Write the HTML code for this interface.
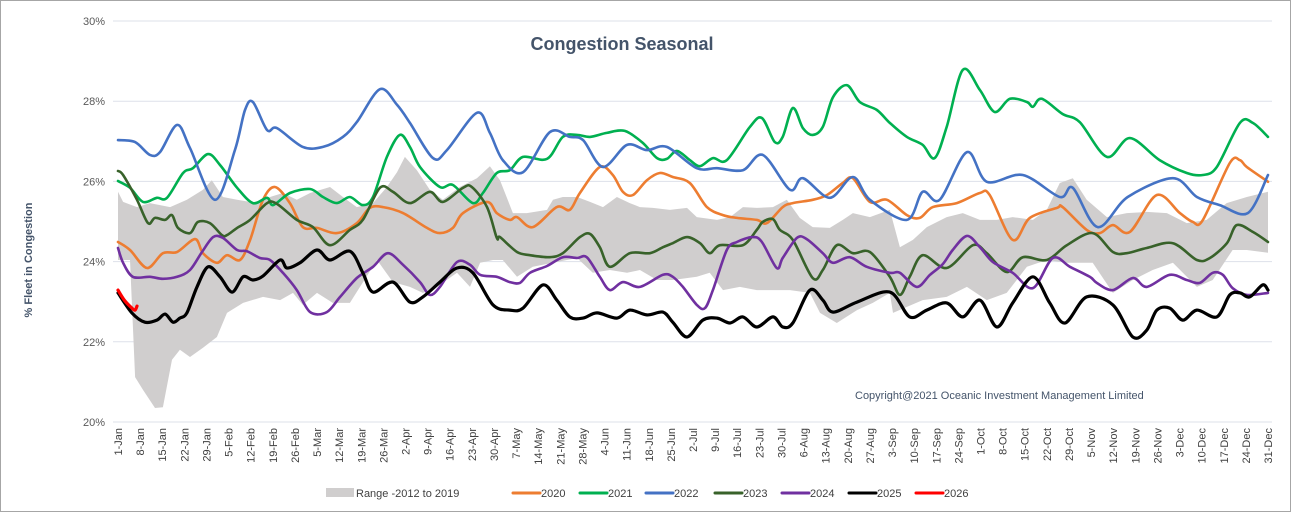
<!DOCTYPE html>
<html><head><meta charset="utf-8"><style>
html,body{margin:0;padding:0;background:#fff;}
body{width:1292px;height:516px;overflow:hidden;}
svg text{font-family:"Liberation Sans",sans-serif;}
</style></head><body>
<svg id="chart" width="1292" height="516" xmlns="http://www.w3.org/2000/svg">
<rect x="0.5" y="0.5" width="1290" height="511" fill="#fff" stroke="#a6a6a6"/>
<text x="622" y="50" text-anchor="middle" font-size="18" font-weight="bold" fill="#44546a">Congestion Seasonal</text>
<text transform="translate(32,260) rotate(-90)" text-anchor="middle" font-size="11" font-weight="bold" fill="#44546a">% Fleet in Congestion</text>
<g id="grid"></g><g id="band"></g><g id="lines"></g><g id="xlabels"></g>
<text x="855" y="399" font-size="11" fill="#44546a">Copyright@2021 Oceanic Investment Management Limited</text>
<g id="legend"></g>
</svg>
<script>
const yTicks=[20,22,24,26,28,30];
const xTickLabels=["1-Jan","8-Jan","15-Jan","22-Jan","29-Jan","5-Feb","12-Feb","19-Feb","26-Feb","5-Mar","12-Mar","19-Mar","26-Mar","2-Apr","9-Apr","16-Apr","23-Apr","30-Apr","7-May","14-May","21-May","28-May","4-Jun","11-Jun","18-Jun","25-Jun","2-Jul","9-Jul","16-Jul","23-Jul","30-Jul","6-Aug","13-Aug","20-Aug","27-Aug","3-Sep","10-Sep","17-Sep","24-Sep","1-Oct","8-Oct","15-Oct","22-Oct","29-Oct","5-Nov","12-Nov","19-Nov","26-Nov","3-Dec","10-Dec","17-Dec","24-Dec","31-Dec"];
const xTickDays=[0,7,14,21,28,35,42,49,56,63,70,77,84,91,98,105,112,119,126,133,140,147,154,161,168,175,182,189,196,203,210,217,224,231,238,245,252,259,266,273,280,287,294,301,308,315,322,329,336,343,350,357,364];
const rangeHighDays=[0,1.6,6,10.1,16.5,21.8,26.9,29.7,33.2,37.7,44,48.1,52.2,56.6,60.8,67.1,71.2,75.6,80.7,85.1,88.3,90.8,94.6,98.7,102.8,108.2,113.6,117.7,120.9,125,129.4,135.8,137.7,140.8,145.3,149.4,153.5,157.9,162,165.2,169.3,174.7,180.1,183.2,189.6,193.7,197.8,202.2,207.3,211.7,215.8,219.9,225.3,229.4,232.6,238,244.3,247.5,251.6,256,262.3,267.4,272.8,278.2,283.2,289.6,294,298.1,302.2,306.6,313,319.3,325.6,332,338.3,344.6,350.9,357.3,364];
const rangeHigh=[25.74,25.49,25.36,25.46,25.36,25.54,25.79,26.03,25.61,25.54,25.46,25.61,25.71,25.54,25.71,25.86,25.61,25.36,25.46,25.86,26.23,26.61,26.28,25.79,25.54,25.86,26.08,26.38,26.03,25.21,25.21,25.29,25.54,25.61,25.61,25.49,25.36,25.61,25.46,25.36,25.34,25.29,25.34,25.11,25.04,25.11,25.36,25.34,25.36,25.54,25.09,24.86,24.84,25.04,25.21,25.11,25.29,24.36,24.54,24.86,25.11,25.21,25.04,25.04,25.11,25.04,25.29,25.96,26.08,25.54,25.11,25.21,25.24,25.21,24.96,25.04,25.46,25.61,25.74];
const rangeLowDays=[0,3.8,5.4,7.9,11.7,14.2,17.1,19.6,22.8,26.9,31.3,34.5,39.6,45.9,51.3,55.4,58.5,63,68,73.4,76.6,82,87,92.4,96.5,100.9,107.3,111.4,114.6,118.7,121.8,126.3,131.3,138.9,145.3,150.3,155.7,161.1,165.2,170.6,175.6,183.2,187.3,191.5,196.8,202.2,212.7,219,222.2,227.5,233.9,238.9,244.3,245.3,249.7,254.7,262.3,268.7,275,281.3,287.7,294,300.3,308.5,314.9,321.2,327.5,333.9,341.5,346.5,352.8,357.3,364];
const rangeLow=[24.04,24.04,21.12,20.80,20.35,20.37,21.55,21.80,21.62,21.85,22.12,22.72,22.97,23.12,23.04,23.22,22.92,23.22,22.97,22.97,23.37,24.04,23.49,23.37,23.22,23.37,23.72,23.37,23.97,24.04,24.04,23.62,23.87,23.99,24.09,23.72,23.79,23.72,23.79,23.54,23.54,23.62,23.72,23.29,23.37,23.29,23.29,23.22,22.72,22.47,22.79,22.97,23.22,22.72,22.87,23.04,23.12,23.37,23.04,23.22,23.87,24.04,23.97,23.97,23.22,23.54,23.79,23.97,23.37,23.54,24.29,24.29,24.22];
const days2020=[0,3.8,9.2,14.2,18.7,24.4,26.9,31.3,34.5,38.6,41.8,45.9,49.7,54.4,58.5,63,69.3,75.6,79.7,83.9,90.2,97.8,101.9,106,109.2,116.8,119.9,124,126.3,131.3,138.9,143,146.2,152.5,156.6,159.8,163,167.4,171.5,175.6,181,186.4,191.5,195.9,202.2,205.4,210.4,213.6,219.9,224.4,229.4,232.6,238,243.4,249.7,253.8,257.9,265.5,272.8,275.9,283.2,288.6,297.2,299,306.6,310.8,314.9,320.3,328.8,336.1,340.2,343.4,351.9,355.1,357.3,364];
const vals2020=[24.49,24.29,23.84,24.21,24.24,24.56,24.21,23.97,24.16,24.04,24.54,25.54,25.86,25.46,24.86,24.84,24.71,24.96,25.34,25.36,25.21,24.84,24.71,24.84,25.21,25.49,25.21,25.04,25.11,24.86,25.36,25.29,25.71,26.36,26.16,25.74,25.66,26.03,26.21,26.11,25.96,25.36,25.16,25.09,25.04,24.96,25.36,25.46,25.54,25.66,25.96,26.08,25.49,25.54,25.16,25.09,25.36,25.46,25.71,25.66,24.54,25.09,25.34,25.36,24.79,24.71,24.91,24.74,25.66,25.21,24.99,25.04,26.46,26.53,26.36,25.99];
const days2021=[0,3.8,7.9,12.3,15.5,20.6,23.7,28.5,32.3,37.7,42.7,47.2,49.1,54.4,60.8,64.9,69.3,73.4,77.5,80.7,85.1,89.2,92.4,95.6,101.9,106,112.3,115.5,119.9,124,128.2,135.8,140.8,145.3,149.4,154.7,160.4,166.1,170.6,173.7,176.9,181,184.2,188.3,192.7,200,203.8,207.9,210.4,213.6,216.8,219.9,223.1,226.3,230.7,234.8,240.2,244.3,249.7,254.7,258.5,262.3,267.4,272.8,277.5,282.3,287.7,289.6,292.4,299,304.4,313,320.3,329.7,338.3,343.4,347.8,355.1,359.2,364];
const vals2021=[26.01,25.84,25.49,25.59,25.59,26.21,26.33,26.68,26.41,25.84,25.46,25.59,25.41,25.71,25.81,25.61,25.46,25.61,25.41,25.61,26.61,27.16,26.86,26.36,25.86,25.91,25.46,25.71,26.21,26.28,26.61,26.56,27.11,27.16,27.11,27.21,27.26,26.96,26.58,26.56,26.76,26.53,26.38,26.58,26.53,27.36,27.58,26.98,27.11,27.83,27.33,27.16,27.36,28.10,28.40,27.98,27.78,27.46,27.11,26.91,26.58,27.36,28.78,28.28,27.73,28.06,27.98,27.86,28.06,27.68,27.48,26.61,27.08,26.53,26.21,26.16,26.36,27.46,27.46,27.11];
const days2022=[0,5.4,10.1,13.3,18.7,22.8,30.7,37,40.2,42.7,47.2,50.3,58.5,64.9,71.2,75.6,82.9,88.3,92.4,99.7,104.1,113.6,117.7,121.8,128.2,136.7,143,147.2,153.5,161.1,167.4,173.7,183.2,189.6,197.8,204.1,212.7,216.8,225.3,232.6,238,249.7,254.7,260.1,268.7,275,286.4,298.1,302.2,310.1,319.6,333.9,341.5,348.7,357.6,364];
const vals2022=[27.03,26.98,26.66,26.73,27.41,26.83,25.54,26.78,27.78,27.98,27.28,27.33,26.86,26.86,27.11,27.48,28.30,27.91,27.46,26.58,26.78,27.71,27.21,26.53,26.23,27.23,27.11,27.03,26.36,26.91,26.78,26.86,26.33,26.33,26.28,26.66,25.79,26.08,25.59,26.11,25.54,25.04,25.74,25.54,26.73,25.99,26.16,25.61,25.84,24.86,25.61,26.08,25.61,25.41,25.21,26.16];
const days2023=[0,1.6,6,9.5,11.7,14.9,17.1,19,22.8,25.3,29.1,32.9,34.5,37.7,41.8,47.2,50.3,56.6,61.7,67.1,73.4,77.5,82.9,87,92.4,98.7,102.8,109.2,112,116.8,119.9,120.9,126.3,130.4,136.7,140.8,146.2,149.4,152.5,155.7,162,168.4,172.5,175.6,180.1,184.2,187.3,190.5,197.8,202.2,204.1,207.3,209.5,213.6,219.9,223.1,227.5,232.6,238,244.3,247.5,250.6,254.7,262.3,270.6,275,281.3,286.4,294,300.3,308.5,314.9,319.3,325.6,333.9,341.5,345.6,351,354.1,359.2,364];
const vals2023=[26.26,26.16,25.54,24.96,25.09,25.04,25.16,24.84,24.71,24.99,24.96,24.66,24.66,24.84,25.04,25.46,25.44,25.04,24.86,24.41,24.79,25.04,25.84,25.74,25.46,25.74,25.49,25.84,25.86,25.36,24.59,24.61,24.24,24.16,24.11,24.21,24.61,24.69,24.36,23.87,24.21,24.21,24.36,24.46,24.61,24.46,24.21,24.41,24.41,24.79,24.99,25.06,24.79,24.54,23.59,23.79,24.41,24.21,24.24,23.62,23.17,23.62,24.16,23.84,24.41,24.21,23.74,24.11,24.04,24.41,24.71,24.24,24.21,24.34,24.46,24.04,24.09,24.46,24.91,24.74,24.49];
const days2024=[0,1.6,4.7,10.1,14.2,18.7,22.8,26.6,30.1,33.2,37.7,40.8,44.9,48.1,52.2,56.6,60.8,66.1,70.3,75.6,80.7,85.4,90.2,95.6,98.7,101.9,107.3,111.4,114.6,119.9,124,127.2,130.4,135.8,140.8,145.3,148.4,152.5,155.7,159.8,165.2,172.5,175.6,178.8,183.2,185.8,188.3,192.7,195.9,200.9,203.8,208.5,210.4,214.9,218,223.1,226.3,231.6,237,244.3,247.5,252.8,257,261.1,264.2,268.7,272.8,276.9,283.2,289.6,295.9,301.3,307.6,309.8,314.9,321.2,325.6,332.9,338.3,342.4,346.5,349.7,352.8,357.3,364];
const vals2024=[24.34,23.97,23.62,23.62,23.57,23.62,23.79,24.24,24.61,24.59,24.29,24.26,24.09,24.04,23.72,23.29,22.74,22.74,23.12,23.59,23.87,24.21,23.92,23.49,23.17,23.37,23.99,23.92,23.67,23.62,23.49,23.47,23.72,23.89,24.11,24.09,24.11,23.62,23.29,23.49,23.37,23.67,23.62,23.37,22.92,22.84,23.29,24.29,24.49,24.61,24.49,23.84,24.09,24.59,24.56,24.21,23.97,24.11,23.87,23.72,23.72,23.37,23.67,23.94,24.29,24.64,24.36,23.99,23.72,23.34,24.09,23.87,23.62,23.47,23.29,23.59,23.37,23.67,23.54,23.47,23.72,23.67,23.34,23.17,23.22];
const days2025=[0,4.4,8.5,12.3,14.9,17.4,19.6,21.8,25,28.5,32.3,36.1,39.6,42.7,45.9,51.3,53.5,57.6,63,67.1,73.4,77.5,80.7,87,92.4,96.5,101.9,107.3,112.3,118.7,124,128.2,134.5,138.9,143,147.2,151.6,157.9,162,167.4,172.5,175.6,180.1,185.1,189.6,193.7,197.8,202.2,207.3,210.4,213.6,219,223.1,226.3,233.9,244.3,250.6,256,262.3,267.4,272.8,278.2,283.2,289.6,294.9,299.7,306.6,314.9,321.2,325.6,328.8,332.9,337,341.5,347.8,351.9,355.1,358.2,362.3,364];
const vals2025=[23.22,22.72,22.49,22.54,22.69,22.49,22.59,22.72,23.37,23.87,23.62,23.24,23.62,23.54,23.64,24.04,23.84,23.97,24.29,24.04,24.26,23.72,23.24,23.49,22.99,23.12,23.49,23.84,23.72,22.92,22.79,22.84,23.42,23.04,22.62,22.59,22.72,22.59,22.79,22.67,22.74,22.49,22.12,22.54,22.59,22.47,22.62,22.37,22.62,22.37,22.47,23.29,23.04,22.74,22.99,23.24,22.62,22.79,22.97,22.62,23.04,22.37,22.97,23.62,22.97,22.47,23.12,22.92,22.12,22.29,22.79,22.84,22.54,22.79,22.62,23.17,23.22,23.12,23.42,23.29];
const days2026=[0,2,4.4,5.4,6];
const vals2026=[23.29,23.04,22.84,22.79,22.89];

const X0=118,X1=1268,Y20=422,PXPCT=40.1;
function xs(d){return X0+d*(X1-X0)/364;}
function ys(v){return Y20-(v-20)*PXPCT;}
const NS="http://www.w3.org/2000/svg";
function mk(tag,parent){const e=document.createElementNS(NS,tag);document.getElementById(parent).appendChild(e);return e;}
function smooth(pts){
  let d="M"+pts[0][0].toFixed(1)+","+pts[0][1].toFixed(1);
  for(let i=0;i<pts.length-1;i++){
    const p0=pts[Math.max(0,i-1)],p1=pts[i],p2=pts[i+1],p3=pts[Math.min(pts.length-1,i+2)];
    const t=0.16;
    const c1=[p1[0]+(p2[0]-p0[0])*t,p1[1]+(p2[1]-p0[1])*t];
    const c2=[p2[0]-(p3[0]-p1[0])*t,p2[1]-(p3[1]-p1[1])*t];
    d+=" C"+c1[0].toFixed(1)+","+c1[1].toFixed(1)+" "+c2[0].toFixed(1)+","+c2[1].toFixed(1)+" "+p2[0].toFixed(1)+","+p2[1].toFixed(1);
  }
  return d;
}
// grid + y labels
yTicks.forEach(v=>{
  const l=mk("line","grid");
  
  
  l.setAttribute("x1",113);l.setAttribute("x2",1272);l.setAttribute("y1",ys(v));l.setAttribute("y2",ys(v));
  l.setAttribute("stroke","#dde1ea");l.setAttribute("stroke-width","1");
  const t=mk("text","grid");
  
  
  t.setAttribute("x",105);t.setAttribute("y",ys(v)+4);t.setAttribute("text-anchor","end");
  t.setAttribute("font-size","11");t.setAttribute("fill","#595959");t.textContent=v+"%";
});
// x labels
xTickLabels.forEach((s,i)=>{
  const t=mk("text","xlabels");
  
  
  const x=xs(xTickDays[i])+4;
  t.setAttribute("transform","translate("+x.toFixed(1)+",428) rotate(-90)");
  t.setAttribute("text-anchor","end");t.setAttribute("font-size","11");t.setAttribute("fill","#404040");
  t.textContent=s;
});
// band
{
  const up=rangeHighDays.map((d,i)=>[xs(d),ys(rangeHigh[i])]);
  const lo=rangeLowDays.map((d,i)=>[xs(d),ys(rangeLow[i])]).reverse();
  const p=mk("polygon","band");
  
  
  p.setAttribute("points",up.concat(lo).map(q=>q[0].toFixed(1)+","+q[1].toFixed(1)).join(" "));
  p.setAttribute("fill","#d0cece");
}
const series=[
  ["series-2020",days2020,vals2020,"#ed7d31",2.6],
  ["series-2021",days2021,vals2021,"#00b050",2.6],
  ["series-2022",days2022,vals2022,"#4472c4",2.6],
  ["series-2023",days2023,vals2023,"#38622a",2.6],
  ["series-2024",days2024,vals2024,"#7030a0",2.6],
  ["series-2025",days2025,vals2025,"#000000",3.2],
  ["series-2026",days2026,vals2026,"#ff0000",3.2]
];
series.forEach(s=>{
  const p=mk("path","lines");
  
  
  p.setAttribute("d",smooth(s[1].map((d,i)=>[xs(d),ys(s[2][i])])));
  p.setAttribute("fill","none");p.setAttribute("stroke",s[3]);p.setAttribute("stroke-width",s[4]);
  p.setAttribute("stroke-linejoin","round");p.setAttribute("stroke-linecap","round");
});
// legend
const legendLabels=["2020","2021","2022","2023","2024","2025","2026"];
const legendColors=["#ed7d31","#00b050","#4472c4","#38622a","#7030a0","#000000","#ff0000"];
const legendX=[513,580,646,715,782,849,916];
{
  const r=mk("rect","legend");
  
  
  r.setAttribute("x",326);r.setAttribute("y",488);r.setAttribute("width",28);r.setAttribute("height",9);r.setAttribute("fill","#d0cece");
  const t=mk("text","legend");
  
  
  t.setAttribute("x",356);t.setAttribute("y",497);t.setAttribute("font-size","11");t.setAttribute("fill","#404040");
  t.textContent="Range -2012 to 2019";
}
legendLabels.forEach((s,i)=>{
  const l=mk("line","legend");
  
  
  l.setAttribute("x1",legendX[i]);l.setAttribute("x2",legendX[i]+27);l.setAttribute("y1",493);l.setAttribute("y2",493);
  l.setAttribute("stroke",legendColors[i]);l.setAttribute("stroke-width","3");l.setAttribute("stroke-linecap","round");
  const t=mk("text","legend");
  
  
  t.setAttribute("x",legendX[i]+28);t.setAttribute("y",497);t.setAttribute("font-size","11");t.setAttribute("fill","#404040");
  t.textContent=s;
});
</script>
</body></html>
